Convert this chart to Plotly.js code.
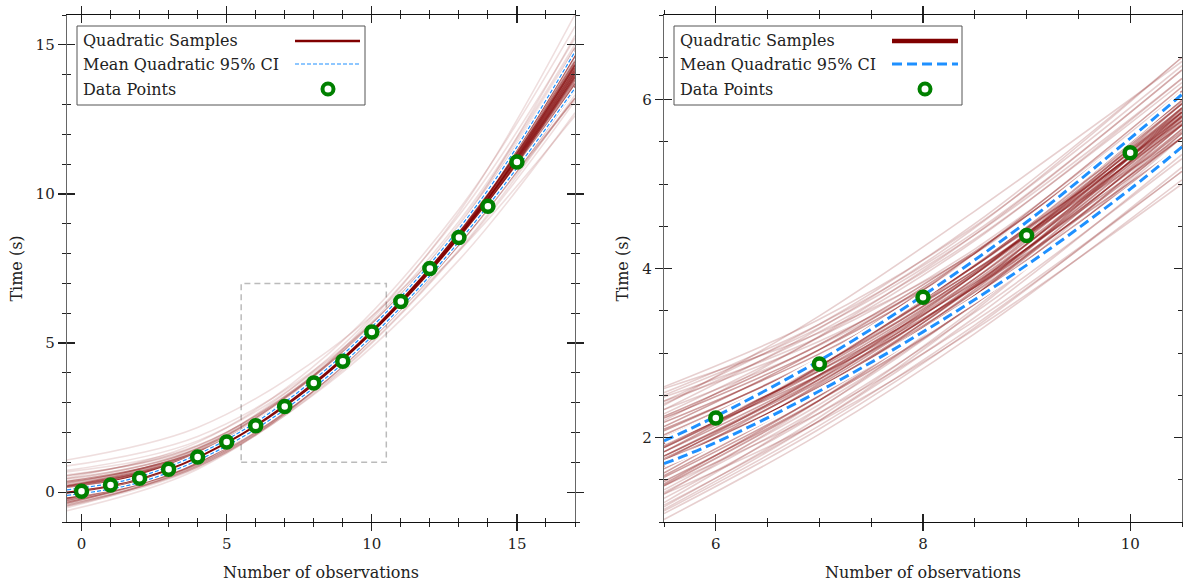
<!DOCTYPE html>
<html>
<head>
<meta charset="utf-8">
<script src="https://cdn.plot.ly/plotly-3.0.1.min.js"></script>
<style>html,body{margin:0;padding:0;background:#fff;}#chart{width:1183px;height:582px;}</style>
</head>
<body>
<div id="chart"></div>
<script>
// ---------------- data ----------------
const obsX = [0, 1, 2, 3, 4, 5, 6, 7, 8, 9, 10, 11, 12, 13, 14, 15];
const obsY = [0.03, 0.24, 0.47, 0.77, 1.18, 1.68, 2.23, 2.87, 3.66, 4.39, 5.37, 6.39, 7.50, 8.54, 9.59, 11.07];

// left panel: posterior quadratic samples, read at these x positions
const leftSampleX = [-0.5, 4, 8.5, 13, 17];
const leftCoreSamples = [
  [-0.02, 1.17, 4.04, 8.58, 14.12],
  [0.13, 1.27, 4.09, 8.48, 13.82],
  [-0.17, 1.07, 3.99, 8.68, 14.42],
  [0.23, 1.32, 4.09, 8.38, 13.57],
  [-0.27, 1.02, 3.99, 8.78, 14.72],
  [0.08, 1.17, 3.94, 8.53, 14.32],
  [-0.12, 1.17, 4.14, 8.63, 13.92],
  [0.03, 1.27, 4.19, 8.83, 14.47],
  [-0.07, 1.07, 3.89, 8.33, 13.72],
  [0.18, 1.22, 3.99, 8.48, 14.02],
  [-0.22, 1.12, 4.09, 8.68, 14.22],
  [-0.02, 1.22, 4.14, 8.78, 14.62],
  [-0.02, 1.12, 3.94, 8.38, 13.67],
  [0.10, 1.19, 4.01, 8.58, 14.22],
  [-0.14, 1.17, 4.09, 8.58, 14.02],
  [0.05, 1.20, 4.06, 8.60, 14.15],
  [-0.05, 1.14, 4.02, 8.56, 14.08],
  [0.20, 1.28, 4.10, 8.50, 13.90],
  [-0.20, 1.06, 3.98, 8.66, 14.35],
  [0.35, 1.35, 4.08, 8.40, 13.60],
  [-0.35, 0.98, 3.98, 8.75, 14.65],
  [0.00, 1.25, 4.15, 8.70, 14.30],
  [0.00, 1.10, 3.93, 8.45, 13.95]
];
const leftMidSamples = [
  [0.45, 1.45, 4.25, 8.60, 13.60],
  [-0.45, 0.90, 3.85, 8.60, 14.70],
  [0.30, 1.40, 4.30, 8.90, 14.80],
  [-0.30, 0.95, 3.80, 8.30, 13.50],
  [0.55, 1.55, 4.30, 8.50, 13.20],
  [-0.40, 0.85, 3.80, 8.55, 14.90]
];
const leftFaintSamples = [
  [1.08, 2.17, 4.74, 8.68, 13.22],
  [0.73, 1.72, 4.39, 8.78, 14.32],
  [0.68, 1.57, 4.24, 8.38, 13.22],
  [-0.62, 0.77, 3.84, 8.88, 15.32],
  [-0.47, 0.82, 3.69, 8.08, 13.12],
  [0.48, 1.67, 4.64, 9.48, 15.62],
  [0.28, 1.37, 4.04, 8.08, 12.62],
  [-0.37, 1.07, 4.34, 9.38, 16.02],
  [0.88, 1.87, 4.44, 8.68, 13.82],
  [-0.32, 0.87, 3.64, 7.78, 12.72],
  [0.38, 1.47, 4.34, 9.08, 15.02],
  [0.58, 1.47, 4.04, 8.28, 13.52],
  [-0.52, 0.97, 4.14, 8.98, 14.92],
  [0.18, 1.47, 4.49, 9.28, 15.22],
  [-0.22, 0.92, 3.74, 8.13, 13.32]
];
const leftCIX = [-0.5, 2, 5, 8, 11, 14, 17];
const leftCIUpper = [0.08, 0.52, 1.76, 3.77, 6.55, 10.13, 14.77];
const leftCILower = [-0.11, 0.33, 1.55, 3.50, 6.20, 9.60, 13.55];

// right panel (zoom)
const rightSampleX = [5.5, 7, 8.5, 10.5];
const rightCoreSamples = [
  [1.83, 2.74, 3.88, 5.75],
  [2.03, 2.89, 3.98, 5.80],
  [1.63, 2.59, 3.78, 5.70],
  [2.13, 3.04, 4.18, 6.05],
  [1.53, 2.49, 3.68, 5.60],
  [1.93, 2.94, 4.18, 6.15],
  [1.73, 2.59, 3.68, 5.45],
  [2.23, 3.04, 4.08, 5.75],
  [1.43, 2.44, 3.68, 5.70],
  [1.98, 2.79, 3.83, 5.55],
  [1.68, 2.69, 3.93, 5.95],
  [1.88, 2.84, 4.03, 5.95],
  [1.78, 2.69, 3.78, 5.65],
  [2.08, 2.94, 4.03, 5.90],
  [1.58, 2.64, 3.88, 5.85],
  [2.18, 2.99, 4.03, 5.85],
  [1.48, 2.44, 3.58, 5.45],
  [1.83, 2.84, 4.08, 6.10],
  [1.93, 2.74, 3.78, 5.45],
  [1.73, 2.74, 3.93, 5.90],
  [1.88, 2.79, 3.93, 5.80],
  [1.78, 2.72, 3.85, 5.72],
  [2.00, 2.85, 3.95, 5.82],
  [1.66, 2.62, 3.82, 5.78],
  [1.95, 2.90, 4.05, 6.00],
  [1.70, 2.60, 3.72, 5.55],
  [2.10, 2.92, 3.98, 5.70],
  [1.55, 2.55, 3.80, 5.85],
  [1.90, 2.82, 3.96, 5.88],
  [1.75, 2.66, 3.80, 5.62],
  [2.25, 3.10, 4.20, 5.98],
  [1.45, 2.50, 3.75, 5.80]
];
const rightFaintSamples = [
  [2.53, 3.34, 4.43, 6.35],
  [1.13, 2.14, 3.33, 5.15],
  [2.43, 3.14, 4.08, 5.55],
  [1.23, 2.34, 3.68, 5.90],
  [2.33, 3.29, 4.48, 6.50],
  [1.33, 2.19, 3.28, 5.00],
  [2.58, 3.24, 4.18, 5.85],
  [1.28, 2.29, 3.48, 5.30],
  [2.28, 3.19, 4.33, 6.25],
  [1.38, 2.39, 3.58, 5.40],
  [2.38, 3.44, 4.68, 6.45],
  [1.18, 2.24, 3.53, 5.55],
  [2.48, 3.19, 4.23, 6.10],
  [1.03, 2.04, 3.23, 5.05],
  [2.33, 3.09, 4.13, 5.95],
  [1.43, 2.29, 3.38, 5.15],
  [2.43, 3.34, 4.53, 6.50],
  [1.33, 2.44, 3.73, 5.75],
  [2.40, 3.25, 4.35, 6.20],
  [1.20, 2.20, 3.42, 5.35],
  [2.50, 3.30, 4.40, 6.25],
  [1.10, 2.10, 3.30, 5.20],
  [2.20, 3.20, 4.40, 6.35],
  [1.35, 2.35, 3.60, 5.65],
  [2.60, 3.40, 4.50, 6.40],
  [1.15, 2.20, 3.50, 5.60]
];
const rightCIX = [5.5, 6, 7, 8, 9, 10, 10.5];
const rightCIUpper = [1.96, 2.25, 2.91, 3.68, 4.55, 5.54, 6.06];
const rightCILower = [1.69, 1.94, 2.55, 3.25, 4.04, 4.94, 5.44];

const legendLabels = ['Quadratic Samples', 'Mean Quadratic 95% CI', 'Data Points'];
const xTitle = 'Number of observations';
const yTitle = 'Time (s)';

// ---------------- styling ----------------
const W = 1183, H = 582;
const RED = 'rgb(128,0,0)';
const BLUE = 'rgb(30,144,255)';
const GREEN = 'rgb(0,128,0)';
const FONT = 'DejaVu Serif, Liberation Serif, serif';

const traces = [];
function addSamples(xs, rows, xa, ya, opacity, width) {
  rows.forEach(r => traces.push({
    type: 'scatter', mode: 'lines', x: xs, y: r, xaxis: xa, yaxis: ya,
    line: {color: RED, width: width, shape: 'spline'}, opacity: opacity,
    hoverinfo: 'skip', showlegend: false
  }));
}
addSamples(leftSampleX, leftFaintSamples, 'x', 'y', 0.13, 1.6);
addSamples(leftSampleX, leftMidSamples, 'x', 'y', 0.25, 1.6);
addSamples(leftSampleX, leftCoreSamples, 'x', 'y', 0.42, 1.8);
addSamples(rightSampleX, rightFaintSamples, 'x2', 'y2', 0.19, 1.6);
addSamples(rightSampleX, rightCoreSamples, 'x2', 'y2', 0.37, 1.6);

function addCI(xs, ys, xa, ya, under, w, dash) {
  traces.push({type: 'scatter', mode: 'lines', x: xs, y: ys, xaxis: xa, yaxis: ya,
    line: {color: 'white', width: under, shape: 'spline'}, hoverinfo: 'skip', showlegend: false});
  traces.push({type: 'scatter', mode: 'lines', x: xs, y: ys, xaxis: xa, yaxis: ya,
    line: {color: BLUE, width: w, dash: dash, shape: 'spline'}, hoverinfo: 'skip', showlegend: false});
}
addCI(leftCIX, leftCIUpper, 'x', 'y', 3.5, 1.2, '4px,2px');
addCI(leftCIX, leftCILower, 'x', 'y', 3.5, 1.2, '4px,2px');
addCI(rightCIX, rightCIUpper, 'x2', 'y2', 7, 3, '10px,5px');
addCI(rightCIX, rightCILower, 'x2', 'y2', 7, 3, '10px,5px');

[['x', 'y'], ['x2', 'y2']].forEach(([xa, ya]) => traces.push({
  type: 'scatter', mode: 'markers', x: obsX, y: obsY, xaxis: xa, yaxis: ya,
  marker: {symbol: 'circle', size: 11, color: 'white', line: {color: GREEN, width: 4.5}},
  cliponaxis: true, hoverinfo: 'skip', showlegend: false
}));

// dummy traces to create overlay axes (ticks on the inside)
[['x3', 'y'], ['x', 'y3'], ['x4', 'y2'], ['x2', 'y4']].forEach(([xa, ya]) =>
  traces.push({type: 'scatter', mode: 'lines', x: [], y: [], xaxis: xa, yaxis: ya, hoverinfo: 'skip', showlegend: false}));

const yDom = [1 - 522 / H, 1 - 15 / H];
const leftDom = [67 / W, 575 / W];
const rightDom = [664 / W, 1182 / W];

function mainAxis(extra, lineColor) {
  return Object.assign({
    showgrid: false, zeroline: false, showline: true, linecolor: lineColor, linewidth: 1.3,
    mirror: 'ticks', ticks: 'outside', ticklen: 8, tickwidth: 1.3, tickcolor: '#222',
    tickfont: {family: FONT, size: 15, color: '#222'}
  }, extra);
}
function overlayAxis(extra) {
  return Object.assign({
    showgrid: false, zeroline: false, showline: false, showticklabels: false,
    mirror: 'ticks', ticks: 'inside', ticklen: 8, tickwidth: 1.3, tickcolor: '#222'
  }, extra);
}
const titleFont = {family: FONT, size: 16, color: '#222'};
const minorOut = d => ({ticks: 'outside', ticklen: 4, tickwidth: 1, tickcolor: '#222', dtick: d, tick0: 0});
const minorIn = d => ({ticks: 'inside', ticklen: 4, tickwidth: 1, tickcolor: '#222', dtick: d, tick0: 0});

const layout = {
  width: W, height: H,
  margin: {l: 0, r: 0, t: 0, b: 0, autoexpand: false},
  paper_bgcolor: 'white', plot_bgcolor: 'white',
  font: {family: FONT, size: 15, color: '#222'},
  showlegend: false,
  xaxis: mainAxis({domain: leftDom, range: [-0.5, 17], anchor: 'y', tick0: 0, dtick: 5, minor: minorOut(1),
    title: {text: xTitle, font: titleFont, standoff: 15}}, '#111'),
  yaxis: mainAxis({domain: yDom, range: [-1, 16], anchor: 'x', tick0: 0, dtick: 5, minor: minorOut(1),
    title: {text: yTitle, font: titleFont, standoff: 9}}, '#666'),
  xaxis3: overlayAxis({overlaying: 'x', anchor: 'y', range: [-0.5, 17], tick0: 0, dtick: 5, minor: minorIn(1)}),
  yaxis3: overlayAxis({overlaying: 'y', anchor: 'x', range: [-1, 16], tick0: 0, dtick: 5, minor: minorIn(1)}),
  xaxis2: mainAxis({domain: rightDom, range: [5.5, 10.5], anchor: 'y2', tick0: 0, dtick: 2, minor: minorOut(0.5),
    title: {text: xTitle, font: titleFont, standoff: 15}}, '#111'),
  yaxis2: mainAxis({domain: yDom, range: [1, 7], anchor: 'x2', tick0: 0, dtick: 2, minor: minorOut(0.5),
    title: {text: yTitle, font: titleFont, standoff: 9}}, '#666'),
  xaxis4: overlayAxis({overlaying: 'x2', anchor: 'y2', range: [5.5, 10.5], tick0: 0, dtick: 2, minor: minorIn(0.5)}),
  yaxis4: overlayAxis({overlaying: 'y2', anchor: 'x2', range: [1, 7], tick0: 0, dtick: 2, minor: minorIn(0.5)}),
  shapes: [],
  annotations: []
};

// zoom-region box on the left panel (matches the right panel's ranges)
layout.shapes.push({type: 'rect', xref: 'x', yref: 'y',
  x0: layout.xaxis2.range[0], x1: layout.xaxis2.range[1],
  y0: layout.yaxis2.range[0], y1: layout.yaxis2.range[1],
  line: {color: '#bbbbbb', width: 1.5, dash: '6px,4px'}, layer: 'below'});

// custom legends (text left, sample on the right)
const px = v => v / W, py = v => 1 - v / H;
function addLegend(left, right, textX, swatch0, swatch1, markerX, redW, blueW, blueDash) {
  layout.shapes.push({type: 'rect', xref: 'paper', yref: 'paper',
    x0: px(left), x1: px(right), y0: py(105), y1: py(26),
    line: {color: '#555', width: 1}, fillcolor: 'white', layer: 'above'});
  const rows = [41, 64, 89];
  legendLabels.forEach((t, i) => layout.annotations.push({
    xref: 'paper', yref: 'paper', x: px(textX), y: py(rows[i]), xanchor: 'left', yanchor: 'middle',
    text: t, showarrow: false, font: {family: FONT, size: 16, color: '#222'}}));
  layout.shapes.push({type: 'line', xref: 'paper', yref: 'paper',
    x0: px(swatch0), x1: px(swatch1), y0: py(rows[0]), y1: py(rows[0]),
    line: {color: RED, width: redW}, layer: 'above'});
  layout.shapes.push({type: 'line', xref: 'paper', yref: 'paper',
    x0: px(swatch0), x1: px(swatch1), y0: py(rows[1]), y1: py(rows[1]),
    line: {color: BLUE, width: blueW, dash: blueDash}, layer: 'above'});
  layout.shapes.push({type: 'circle', xref: 'paper', yref: 'paper',
    x0: px(markerX - 5.5), x1: px(markerX + 5.5), y0: py(rows[2] + 5.5), y1: py(rows[2] - 5.5),
    line: {color: GREEN, width: 4}, fillcolor: 'white', layer: 'above'});
}
addLegend(77, 365, 81, 295, 360, 328, 2.5, 1.2, '4px,2px');
addLegend(674, 962, 678, 892, 958, 925, 4.5, 3, '10px,5px');

Plotly.newPlot('chart', traces, layout, {displayModeBar: false, staticPlot: true});
</script>
</body>
</html>
